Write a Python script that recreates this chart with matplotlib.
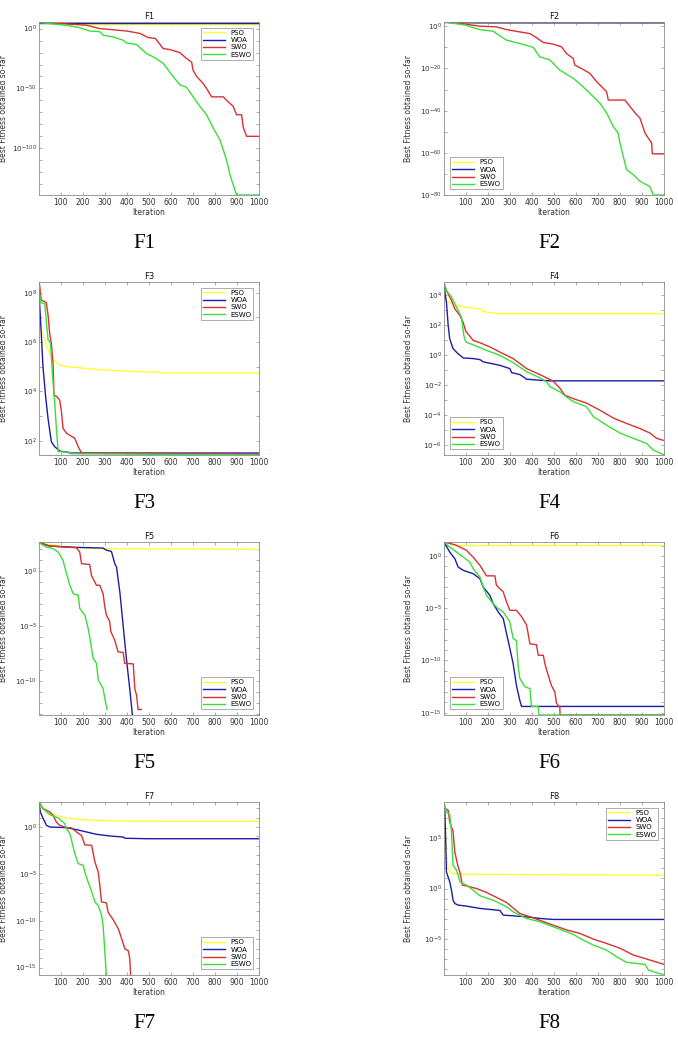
import matplotlib
matplotlib.use('Agg')
import matplotlib.pyplot as plt
import numpy as np
from matplotlib.ticker import FixedLocator, NullFormatter, LogFormatterSciNotation

# 每条曲线: (迭代次数, log10(最优适应度))
F1_PSO = [(1, 5.0), (100, 4.0), (200, 3.4), (300, 3.3), (1000, 3.3)]
F1_WOA = [(1, 4.7), (1000, 4.7)]
F1_SWO = [(1, 5.3), (217, 2.8), (277, 0), (398, -2), (459, -4), (497, -7.5), (530, -8.3), (565, -16.7),
          (595, -17.5), (640, -20), (671, -25), (694, -28), (701, -35), (717, -40), (747, -46), (762, -50),
          (785, -57), (838, -57), (853, -60), (883, -65), (898, -72), (921, -72), (929, -83), (944, -90),
          (1000, -90)]
F1_ESWO = [(1, 5.0), (126, 2.8), (185, 0.8), (231, -2), (277, -2.5), (292, -5.5), (338, -7), (383, -9.7),
           (398, -12), (444, -13.3), (490, -21), (520, -23.6), (565, -29), (610, -40), (641, -47), (671, -49),
           (701, -57), (732, -65), (762, -72), (792, -83), (823, -93), (853, -110), (868, -122), (898, -139),
           (1000, -139)]

F2_PSO = [(1, 2.0), (100, 1.6), (1000, 1.6)]
F2_WOA = [(1, 1.8), (150, 1.6), (1000, 1.6)]
F2_SWO = [(1, 2.0), (100, 1.0), (164, 0), (239, -0.3), (285, -1.6), (345, -2.7), (391, -3.5), (421, -5.4),
          (452, -7.7), (497, -8.5), (535, -9.8), (558, -13), (588, -15.3), (595, -18.4), (633, -20.5),
          (664, -22.4), (694, -26.3), (724, -29.4), (739, -31), (747, -35), (823, -35), (845, -38), (868, -41),
          (891, -43.6), (914, -50.7), (944, -55.4), (947, -60.5), (1000, -60.5)]
F2_ESWO = [(1, 2.0), (100, 0.5), (164, -1.6), (224, -2.4), (285, -6.6), (345, -8.2), (406, -10), (436, -14.5),
           (482, -16), (527, -20.8), (588, -24.7), (633, -28.7), (679, -33.4), (709, -36.5), (739, -41),
           (770, -47.6), (792, -50.7), (800, -55.4), (815, -61.7), (830, -68), (861, -70.4), (891, -73.5),
           (936, -76), (951, -80), (1000, -80)]

F3_PSO = [(1, 6.8), (12, 6.48), (34, 5.85), (63, 5.3), (88, 5.1), (126, 5.0), (201, 4.94), (277, 4.88),
          (428, 4.8), (549, 4.78), (552, 4.74), (1000, 4.74)]
F3_WOA = [(1, 8.43), (4, 7.5), (11, 6.4), (19, 5.0), (31, 3.8), (42, 2.9), (57, 1.96), (72, 1.76),
          (95, 1.58), (133, 1.53), (140, 1.5), (1000, 1.5)]
F3_SWO = [(4, 8.3), (11, 7.7), (34, 7.6), (42, 7.1), (50, 6.3), (57, 5.95), (65, 5.1), (69, 3.85),
          (80, 3.8), (95, 3.64), (103, 3.17), (110, 2.5), (126, 2.3), (163, 2.1), (179, 1.76), (194, 1.5),
          (1000, 1.45)]
F3_ESWO = [(1, 8.3), (7, 7.6), (27, 7.55), (42, 6.1), (53, 5.95), (62, 4.7), (72, 3.57), (80, 2.5),
           (88, 1.56), (140, 1.53), (148, 1.47), (1000, 1.42)]

F4_PSO = [(1, 4.67), (12, 3.56), (50, 3.44), (65, 3.33), (103, 3.2), (171, 3.1), (179, 2.9), (224, 2.84),
          (239, 2.78), (1000, 2.78)]
F4_WOA = [(1, 4.9), (5, 4.2), (12, 3.56), (20, 2.0), (27, 1.1), (42, 0.44), (65, 0.1), (88, -0.18),
          (133, -0.22), (164, -0.29), (179, -0.44), (254, -0.67), (300, -0.89), (308, -1.16), (345, -1.29),
          (361, -1.44), (376, -1.6), (436, -1.67), (482, -1.71), (1000, -1.71)]
F4_SWO = [(1, 4.78), (12, 4.33), (35, 3.67), (50, 3.1), (73, 2.67), (88, 2.2), (100, 1.6), (133, 1.0),
          (164, 0.84), (209, 0.56), (254, 0.22), (315, -0.22), (376, -0.89), (436, -1.29), (497, -1.73),
          (527, -2.2), (550, -2.67), (588, -2.9), (648, -3.2), (709, -3.67), (770, -4.2), (830, -4.56),
          (891, -4.9), (936, -5.2), (967, -5.56), (1000, -5.7)]
F4_ESWO = [(1, 4.9), (12, 4.33), (35, 3.9), (58, 3.2), (80, 2.56), (91, 1.33), (100, 0.89), (133, 0.7),
           (194, 0.33), (254, 0), (315, -0.49), (376, -1.1), (436, -1.5), (467, -1.78), (482, -2.1),
           (527, -2.44), (558, -2.8), (588, -3.1), (648, -3.44), (679, -4.1), (739, -4.67), (800, -5.2),
           (861, -5.56), (921, -5.9), (951, -6.33), (1000, -6.67)]

F5_PSO = [(1, 2.58), (126, 2.18), (277, 2.03), (1000, 1.97)]
F5_WOA = [(1, 2.58), (50, 2.27), (171, 2.15), (292, 2.09), (307, 1.9), (330, 1.78), (345, 0.67),
          (353, 0.36), (368, -1.9), (383, -4.94), (398, -8), (413, -10.7), (425, -13.1), (430, -14)]
F5_SWO = [(1, 2.58), (50, 2.27), (171, 2.12), (186, 1.73), (194, 0.67), (231, 0.6), (239, -0.39),
          (262, -1.3), (277, -1.3), (292, -2.06), (300, -3.27), (307, -4.0), (322, -4.6), (327, -5.5),
          (345, -6.3), (360, -7.36), (383, -7.4), (390, -8.4), (429, -8.45), (436, -10.7), (444, -11.3),
          (451, -12.6), (466, -12.6)]
F5_ESWO = [(1, 2.58), (34, 2.18), (65, 2.03), (88, 1.73), (110, 0.97), (126, -0.24), (141, -1.3),
           (156, -2.06), (179, -2.2), (186, -3.4), (209, -4.0), (224, -5.2), (231, -5.97), (247, -7.97),
           (262, -8.4), (270, -9.9), (292, -10.7), (300, -11.6), (310, -12.6)]

F6_PSO = [(1, 1.34), (42, 1.08), (73, 1.0), (1000, 1.0)]
F6_WOA = [(1, 1.34), (27, 0.38), (50, -0.25), (65, -1.05), (88, -1.37), (133, -1.69), (164, -2.17),
          (179, -2.96), (209, -3.76), (224, -4.55), (247, -5.35), (270, -5.99), (285, -7.42), (300, -8.85),
          (315, -10.3), (330, -12.4), (345, -13.8), (353, -14.4), (1000, -14.4)]
F6_SWO = [(1, 1.34), (50, 1.08), (73, 0.86), (103, 0.54), (133, -0.1), (164, -0.89), (194, -1.9),
          (232, -1.9), (239, -2.8), (270, -3.44), (285, -4.4), (300, -5.2), (330, -5.2), (353, -5.8),
          (376, -6.6), (391, -8.4), (421, -8.5), (429, -9.5), (452, -9.5), (459, -10.3), (474, -11.4),
          (489, -12.4), (504, -13), (512, -14.1), (523, -14.4), (527, -14.4), (528, -15.22), (1000, -15.22)]
F6_ESWO = [(1, 1.34), (27, 0.86), (58, 0.38), (88, -0.1), (118, -0.57), (133, -1.2), (148, -1.6),
           (164, -2.0), (179, -2.96), (194, -3.76), (224, -4.55), (247, -5.03), (270, -5.35), (300, -6.3),
           (315, -7.9), (330, -8.1), (338, -10.6), (345, -11.7), (368, -12.5), (391, -12.7), (398, -14.4),
           (429, -14.4), (432, -15.22), (1000, -15.22)]

F7_PSO = [(1, 2.67), (12, 1.96), (50, 1.42), (126, 0.96), (202, 0.78), (353, 0.64), (581, 0.6), (1000, 0.6)]
F7_WOA = [(1, 2.67), (7, 1.6), (20, 0.89), (35, 0.18), (50, 0), (126, -0.07), (171, -0.28), (217, -0.53),
          (262, -0.78), (323, -0.96), (384, -1.07), (391, -1.2), (490, -1.25), (1000, -1.25)]
F7_SWO = [(1, 2.67), (20, 1.96), (50, 1.6), (65, 1.25), (80, 0.53), (95, 0.18), (126, -0.07), (149, -0.1),
          (171, -0.53), (194, -0.9), (209, -1.9), (240, -1.96), (255, -3.74), (270, -4.8), (277, -6.2),
          (285, -8.0), (307, -8.1), (315, -9.1), (338, -9.9), (361, -10.85), (376, -11.9), (391, -13.0),
          (406, -13.2), (413, -14.0), (420, -17)]
F7_ESWO = [(1, 2.67), (20, 1.96), (50, 1.32), (88, 0.96), (118, 0.36), (126, -0.18), (141, -0.71),
           (164, -2.85), (179, -3.9), (202, -4.1), (209, -4.8), (224, -5.87), (240, -6.9), (255, -8.0),
           (270, -8.4), (285, -9.4), (292, -10.5), (300, -13.3), (310, -17)]

F8_PSO = [(1, 7.9), (12, 3.3), (20, 1.97), (27, 1.64), (42, 1.48), (103, 1.41), (1000, 1.32)]
F8_WOA = [(1, 7.9), (5, 7.57), (9, 4.6), (12, 1.64), (27, 0.66), (35, -0.16), (42, -1.15), (50, -1.48),
          (65, -1.64), (103, -1.74), (164, -1.97), (224, -2.1), (255, -2.17), (270, -2.63), (315, -2.7),
          (376, -2.8), (436, -2.96), (497, -3.06), (1000, -3.06)]
F8_SWO = [(1, 7.9), (20, 7.73), (27, 6.58), (42, 5.66), (50, 3.62), (65, 2.14), (73, 1.64), (85, 0.33),
          (103, 0.26), (148, 0), (194, -0.39), (255, -1.05), (285, -1.38), (345, -2.47), (406, -2.9),
          (467, -3.39), (558, -4.1), (618, -4.44), (679, -5.0), (739, -5.43), (800, -5.9), (861, -6.58),
          (921, -6.97), (1000, -7.5)]
F8_ESWO = [(1, 8.55), (12, 7.57), (27, 7.3), (35, 5.6), (42, 2.3), (58, 1.8), (65, 1.32), (73, 0.66),
           (103, 0.33), (133, -0.16), (164, -0.72), (224, -1.15), (285, -1.8), (315, -2.3), (376, -2.96),
           (436, -3.29), (497, -3.78), (588, -4.54), (633, -5.1), (679, -5.59), (739, -6.09), (785, -6.74),
           (830, -7.3), (914, -7.5), (929, -8.06), (1000, -8.55)]

titles = ['F1', 'F2', 'F3', 'F4', 'F5', 'F6', 'F7', 'F8']
series = [
    [F1_PSO, F1_WOA, F1_SWO, F1_ESWO],
    [F2_PSO, F2_WOA, F2_SWO, F2_ESWO],
    [F3_PSO, F3_WOA, F3_SWO, F3_ESWO],
    [F4_PSO, F4_WOA, F4_SWO, F4_ESWO],
    [F5_PSO, F5_WOA, F5_SWO, F5_ESWO],
    [F6_PSO, F6_WOA, F6_SWO, F6_ESWO],
    [F7_PSO, F7_WOA, F7_SWO, F7_ESWO],
    [F8_PSO, F8_WOA, F8_SWO, F8_ESWO],
]
names = ['PSO', 'WOA', 'SWO', 'ESWO']
# y 轴范围（指数）和刻度
ylims = [(-139, 5.5), (-80, 2), (1.42, 8.43), (-6.67, 4.9), (-13.1, 2.64), (-15.22, 1.34), (-15.8, 2.67), (-8.55, 8.55)]
major_exp = [[-100, -50, 0], [-80, -60, -40, -20, 0], [2, 4, 6, 8], [-6, -4, -2, 0, 2, 4],
             [-10, -5, 0], [-15, -10, -5, 0], [-15, -10, -5, 0], [-5, 0, 5]]
minor_step = [10, 10, 1, 1, 1, 1, 1, 1]
legend_loc = ['upper right', 'lower left', 'upper right', 'lower left',
              'lower right', 'lower left', 'lower right', 'upper right']
xticks = [100, 200, 300, 400, 500, 600, 700, 800, 900, 1000]

colors = ['#ffff33', '#1c1caa', '#d93131', '#3ade3a']
axcol = '#8c8c8c'
txtcol = '#333333'

fig = plt.figure(figsize=(6.78, 10.43), dpi=100)
W, H = 678.0, 1043.0
lefts = [39, 444]
tops = [22, 282, 542, 802]
aw, ah = 220, 173

for i in range(8):
    r, c = i // 2, i % 2
    ax = fig.add_axes([lefts[c] / W, 1 - (tops[r] + ah) / H, aw / W, ah / H])
    for k in range(4):
        pts = np.array(series[i][k], dtype=float)
        ax.semilogy(pts[:, 0], np.power(10.0, pts[:, 1]), color=colors[k], lw=1.0, label=names[k])
    lo, hi = ylims[i]
    ax.set_ylim(10.0 ** lo, 10.0 ** hi)
    ax.set_xlim(1, 1000)
    ax.set_xticks(xticks)
    ax.set_xticklabels([str(t) for t in xticks])
    ax.yaxis.set_major_locator(FixedLocator([10.0 ** e for e in major_exp[i]]))
    ax.yaxis.set_major_formatter(LogFormatterSciNotation())
    st = minor_step[i]
    mins = [10.0 ** e for e in range(int(np.floor(lo)), int(np.ceil(hi)) + 1, 1) if e % st == 0 and e not in major_exp[i]]
    ax.yaxis.set_minor_locator(FixedLocator(mins))
    ax.yaxis.set_minor_formatter(NullFormatter())
    ax.tick_params(which='both', direction='in', top=True, right=True, width=0.5,
                   color=axcol, labelcolor=txtcol, labelsize=5.5, pad=2)
    ax.tick_params(axis='y', labelsize=5.2, pad=1.5)
    ax.tick_params(which='major', length=2.5)
    ax.tick_params(which='minor', length=2.5)
    for sp in ax.spines.values():
        sp.set_color(axcol)
        sp.set_linewidth(0.6)
    ax.set_title(titles[i], fontsize=6, color='#111111', pad=2)
    ax.set_xlabel('Iteration', fontsize=5.5, color=txtcol, labelpad=1)
    ax.set_ylabel('Best Fitness obtained so-far', fontsize=5.5, color=txtcol)
    ax.yaxis.set_label_coords(-0.14, 0.5)
    leg = ax.legend(loc=legend_loc[i], fontsize=5, handlelength=3.2, borderaxespad=0.8,
                    fancybox=False, framealpha=1, labelspacing=0.2, borderpad=0.3)
    leg.get_frame().set_edgecolor(axcol)
    leg.get_frame().set_linewidth(0.5)
    # 子图下方的编号
    fig.text((lefts[c] + aw / 2 - 5) / W, 1 - (243 + 260 * r) / H, titles[i],
             ha='center', va='center', fontsize=15, family='Liberation Serif')

fig.savefig('out.png', dpi=100)
